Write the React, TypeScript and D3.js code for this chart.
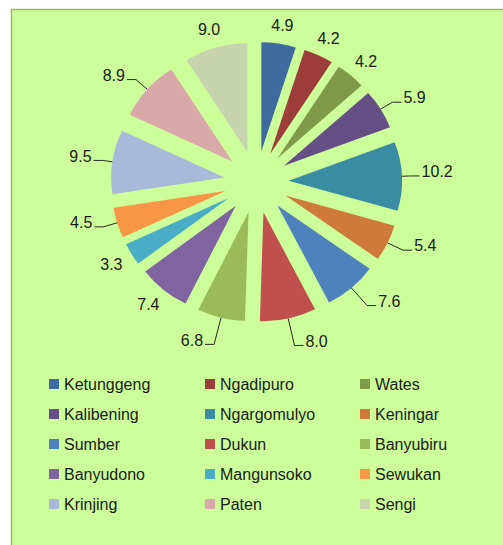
import React from 'react';
import * as d3 from 'd3';

// village names and their share (%)
const villages = [
  'Ketunggeng', 'Ngadipuro', 'Wates', 'Kalibening', 'Ngargomulyo',
  'Keningar', 'Sumber', 'Dukun', 'Banyubiru', 'Banyudono',
  'Mangunsoko', 'Sewukan', 'Krinjing', 'Paten', 'Sengi',
];
const shares = [4.9, 4.2, 4.2, 5.9, 10.2, 5.4, 7.6, 8.0, 6.8, 7.4, 3.3, 4.5, 9.5, 8.9, 9.0];
const sliceColors = [
  '#3e6a9f', '#9d3d3b', '#7f9b4a', '#664e87', '#3a8ca3', '#cd7a3a',
  '#4f81bd', '#c0504d', '#9bbb59', '#8064a2', '#4bacc6', '#f79646',
  '#a9b9da', '#d9a9a9', '#c7d4ad',
];
// labels that Excel pulled out with a leader line
const leaderLabels = ['Kalibening', 'Ngargomulyo', 'Keningar', 'Sumber', 'Dukun', 'Banyubiru', 'Sewukan', 'Krinjing', 'Paten'];

const W = 503;
const H = 545;
const FONT = '"Liberation Sans", Arial, sans-serif';
const FS = 16;

const App: React.FC = () => {
  const cx = 256.4;
  const cy = 182;
  const r = 109;
  const explode = 31;
  const sx = 1.04; // picture is slightly wider than tall

  const pie = d3.pie<number>().sort(null).value((d) => d);
  const arcs = pie(shares);
  const arcGen = d3.arc<d3.PieArcDatum<number>>().innerRadius(0).outerRadius(r);

  const textW = (t: string) => (t.replace('.', '').length * 0.556 + 0.278) * FS;

  const labels = arcs.map((a, i) => {
    const mid = (a.startAngle + a.endAngle) / 2;
    const s = Math.sin(mid);
    const c = Math.cos(mid);
    const ax = cx + sx * explode * s;
    const ay = cy - explode * c;
    const txt = shares[i].toFixed(1);
    const halfW = textW(txt) / 2;
    if (leaderLabels.includes(villages[i])) {
      const x0 = ax + sx * r * s;
      const y0 = ay - r * c;
      // labels below the pie sit further out so the text clears the slice
      const dist = r + 8 + 20 * Math.max(0, -c) + 10 * Math.max(0, c);
      const ex = ax + sx * dist * s;
      const ey = ay - dist * c;
      const side = s >= 0 ? 1 : -1;
      const hx = ex + side * 9;
      return {
        txt,
        x: hx + side * 2,
        y: ey + 1.2,
        anchor: side > 0 ? 'start' : 'end',
        path: `M${x0},${y0}L${ex},${ey}L${hx},${ey}`,
      };
    }
    const g = r + 12;
    return {
      txt,
      x: ax + sx * g * s + s * halfW,
      y: ay - g * c - c * 7 + 5.7,
      anchor: 'middle',
      path: null as string | null,
    };
  });

  const legendCols = [49, 205, 360];
  const legendTop = 384;
  const rowStep = 30;

  return (
    <svg
      width={W}
      height={H}
      style={{ position: 'absolute', left: 0, top: 0, background: '#fff' }}
      fontFamily={FONT}
    >
      <rect x={11.5} y={9.5} width={W} height={H} fill="#ccff99" stroke="#9bbb59" strokeWidth={1.5} />

      <g transform={`translate(${cx},${cy}) scale(${sx},1)`}>
        {arcs.map((a, i) => {
          const mid = (a.startAngle + a.endAngle) / 2;
          return (
            <path
              key={villages[i]}
              d={arcGen(a) || ''}
              transform={`translate(${explode * Math.sin(mid)},${-explode * Math.cos(mid)})`}
              fill={sliceColors[i]}
            />
          );
        })}
      </g>

      {labels.map((l, i) => (
        <g key={`lab-${villages[i]}`}>
          {l.path && <path d={l.path} fill="none" stroke="#262626" strokeWidth={1} />}
          <text x={l.x} y={l.y} textAnchor={l.anchor} fontSize={FS} fill="#1a1a1a">
            {l.txt}
          </text>
        </g>
      ))}

      {villages.map((v, i) => {
        const col = i % 3;
        const row = Math.floor(i / 3);
        const x = legendCols[col];
        const y = legendTop + row * rowStep;
        return (
          <g key={`leg-${v}`}>
            <rect x={x} y={y - 5} width={10} height={10} fill={sliceColors[i]} />
            <text x={x + 15} y={y + 5.7} fontSize={FS} fill="#1a1a1a">
              {v}
            </text>
          </g>
        );
      })}
    </svg>
  );
};

export default App;
